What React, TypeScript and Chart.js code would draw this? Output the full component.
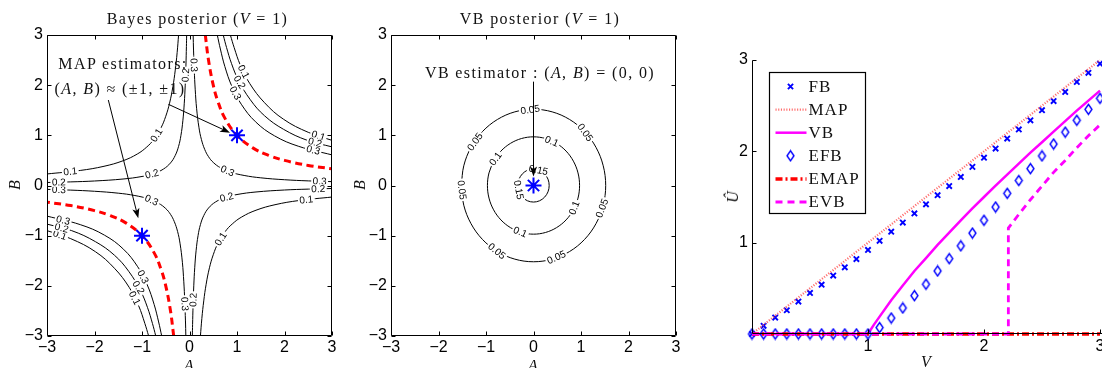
import { useEffect, useRef } from 'react';
import { Chart, registerables } from 'chart.js';

Chart.register(...registerables);

type Pt = [number, number];

const SANS = '"Liberation Sans", Arial, Helvetica, sans-serif';
const SERIF = '"Liberation Serif", "Times New Roman", serif';

// ================= Panel 1 : Bayes posterior (V = 1) =================
const squareTicks = [-3, -2, -1, 0, 1, 2, 3];

const bayesOuter01Q1: Pt[] = [[0.86, 3], [0.94, 2.75], [1.07, 2.4], [1.27, 2.03], [1.58, 1.65], [1.98, 1.32], [2.5, 1.06], [3.0, 0.9]];
const bayesOuter01Q3: Pt[] = [[-0.86, -3], [-0.94, -2.75], [-1.07, -2.4], [-1.27, -2.03], [-1.58, -1.65], [-1.98, -1.32], [-2.5, -1.06], [-3.0, -0.9]];
const bayesOuter02Q1: Pt[] = [[0.71, 3], [0.78, 2.75], [0.885, 2.43], [1.03, 2.1], [1.28, 1.71], [1.58, 1.39], [1.98, 1.12], [2.48, 0.9], [3.0, 0.77]];
const bayesOuter02Q3: Pt[] = [[-0.71, -3], [-0.78, -2.75], [-0.885, -2.43], [-1.03, -2.1], [-1.28, -1.71], [-1.58, -1.39], [-1.98, -1.12], [-2.48, -0.9], [-3.0, -0.77]];
const bayesOuter03Q1: Pt[] = [[0.585, 3], [0.65, 2.72], [0.745, 2.37], [0.89, 1.98], [1.09, 1.62], [1.39, 1.27], [1.79, 0.99], [2.3, 0.78], [3.0, 0.61]];
const bayesOuter03Q3: Pt[] = [[-0.585, -3], [-0.65, -2.72], [-0.745, -2.37], [-0.89, -1.98], [-1.09, -1.62], [-1.39, -1.27], [-1.79, -0.99], [-2.3, -0.78], [-3.0, -0.61]];
const bayesInner03Q1: Pt[] = [[0.077, 3], [0.085, 2.7], [0.1, 2.3], [0.12, 1.92], [0.15, 1.53], [0.2, 1.15], [0.25, 0.92], [0.32, 0.72], [0.4, 0.575], [0.5, 0.46], [0.65, 0.354], [0.85, 0.27], [1.15, 0.2], [1.5, 0.153], [2, 0.115], [2.5, 0.092], [3, 0.077]];
const bayesInner03Q3: Pt[] = [[-0.077, -3], [-0.085, -2.7], [-0.1, -2.3], [-0.12, -1.92], [-0.15, -1.53], [-0.2, -1.15], [-0.25, -0.92], [-0.32, -0.72], [-0.4, -0.575], [-0.5, -0.46], [-0.65, -0.354], [-0.85, -0.27], [-1.15, -0.2], [-1.5, -0.153], [-2, -0.115], [-2.5, -0.092], [-3, -0.077]];
const bayesInner02Q2: Pt[] = [[-0.06, 3], [-0.065, 2.77], [-0.075, 2.4], [-0.09, 2], [-0.11, 1.64], [-0.14, 1.29], [-0.18, 1.0], [-0.23, 0.78], [-0.3, 0.6], [-0.4, 0.45], [-0.55, 0.327], [-0.75, 0.24], [-1.0, 0.18], [-1.4, 0.129], [-2, 0.09], [-2.5, 0.072], [-3, 0.06]];
const bayesInner02Q4: Pt[] = [[0.06, -3], [0.065, -2.77], [0.075, -2.4], [0.09, -2], [0.11, -1.64], [0.14, -1.29], [0.18, -1.0], [0.23, -0.78], [0.3, -0.6], [0.4, -0.45], [0.55, -0.327], [0.75, -0.24], [1.0, -0.18], [1.4, -0.129], [2, -0.09], [2.5, -0.072], [3, -0.06]];
const bayesInner01Q2: Pt[] = [[-0.23, 3], [-0.26, 2.65], [-0.3, 2.3], [-0.35, 1.97], [-0.42, 1.64], [-0.5, 1.38], [-0.6, 1.15], [-0.75, 0.92], [-0.9, 0.767], [-1.1, 0.627], [-1.4, 0.493], [-1.8, 0.383], [-2.3, 0.3], [-3, 0.23]];
const bayesInner01Q4: Pt[] = [[0.23, -3], [0.26, -2.65], [0.3, -2.3], [0.35, -1.97], [0.42, -1.64], [0.5, -1.38], [0.6, -1.15], [0.75, -0.92], [0.9, -0.767], [1.1, -0.627], [1.4, -0.493], [1.8, -0.383], [2.3, -0.3], [3, -0.23]];

const mapRidgeQ1: Pt[] = [[0.333, 3], [0.4, 2.5], [0.5, 2], [0.6, 1.667], [0.75, 1.333], [1, 1], [1.333, 0.75], [1.667, 0.6], [2, 0.5], [2.5, 0.4], [3, 0.333]];
const mapRidgeQ3: Pt[] = [[-0.333, -3], [-0.4, -2.5], [-0.5, -2], [-0.6, -1.667], [-0.75, -1.333], [-1, -1], [-1.333, -0.75], [-1.667, -0.6], [-2, -0.5], [-2.5, -0.4], [-3, -0.333]];

const mapEstimatorA = [1, -1];
const mapEstimatorB = [1, -1];

// label anchor positions along each contour
const outer01Q1Labels: Pt[] = [[1.14, 2.27], [2.71, 0.98]];
const outer02Q1Labels: Pt[] = [[1.04, 2.05], [2.64, 0.85]];
const outer03Q1Labels: Pt[] = [[0.96, 1.84], [2.6, 0.69]];
const outer01Q3Labels: Pt[] = [[-1.17, -2.25], [-2.73, -0.99]];
const outer02Q3Labels: Pt[] = [[-1.09, -2.04], [-2.69, -0.84]];
const outer03Q3Labels: Pt[] = [[-0.98, -1.82], [-2.657, -0.68]];
const inner03Q1Labels: Pt[] = [[0.09, 2.4], [0.8, 0.29], [2.74, 0.084]];
const inner03Q3Labels: Pt[] = [[-0.097, -2.36], [-0.8, -0.3], [-2.75, -0.084]];
const inner02Q2Labels: Pt[] = [[-0.082, 2.2], [-0.79, 0.228], [-2.75, 0.065]];
const inner02Q4Labels: Pt[] = [[0.079, -2.28], [0.78, -0.23], [2.71, -0.066]];
const inner01Q2Labels: Pt[] = [[-0.69, 1.0], [-2.51, 0.275]];
const inner01Q4Labels: Pt[] = [[0.65, -1.06], [2.46, -0.28]];

const bayesArrowFromA = [-0.446, -1.709];
const bayesArrowFromB = [1.619, 1.704];
const bayesArrowToA = [0.853, -1.078];
const bayesArrowToB = [1.053, -0.654];

// ================= Panel 2 : VB posterior (V = 1) =================
const vbCircle005: Pt[] = [[-1.52, 0], [-1.468, -0.393], [-1.316, -0.76], [-1.075, -1.075], [-0.76, -1.316], [-0.393, -1.468], [0, -1.52], [0.393, -1.468], [0.76, -1.316], [1.075, -1.075], [1.316, -0.76], [1.468, -0.393], [1.52, 0], [1.468, 0.393], [1.316, 0.76], [1.075, 1.075], [0.76, 1.316], [0.393, 1.468], [0, 1.52], [-0.393, 1.468], [-0.76, 1.316], [-1.075, 1.075], [-1.316, 0.76], [-1.468, 0.393], [-1.52, 0]];
const vbCircle01: Pt[] = [[-0.84, 0.485], [-0.937, 0.251], [-0.97, 0], [-0.937, -0.251], [-0.84, -0.485], [-0.686, -0.686], [-0.485, -0.84], [-0.251, -0.937], [0, -0.97], [0.251, -0.937], [0.485, -0.84], [0.686, -0.686], [0.84, -0.485], [0.937, -0.251], [0.97, 0], [0.937, 0.251], [0.84, 0.485], [0.686, 0.686], [0.485, 0.84], [0.251, 0.937], [0, 0.97], [-0.251, 0.937], [-0.485, 0.84], [-0.686, 0.686], [-0.84, 0.485]];
const vbCircle015: Pt[] = [[-0.33, 0], [-0.305, -0.126], [-0.233, -0.233], [-0.126, -0.305], [0, -0.33], [0.126, -0.305], [0.233, -0.233], [0.305, -0.126], [0.33, 0], [0.305, 0.126], [0.233, 0.233], [0.126, 0.305], [0, 0.33], [-0.126, 0.305], [-0.233, 0.233], [-0.305, 0.126], [-0.33, 0]];

const circle005Labels: Pt[] = [[-0.07, 1.5], [1.08, 1.05], [-1.23, 0.87], [-1.53, -0.09], [1.46, -0.46], [-0.79, -1.33], [0.49, -1.45]];
const circle01Labels: Pt[] = [[0.37, 0.85], [-0.85, 0.57], [0.87, -0.45], [-0.28, -0.93]];
const circle015Labels: Pt[] = [[0.1, 0.29], [-0.33, -0.09]];

const vbEstimatorA = [0];
const vbEstimatorB = [0];
const vbArrowFromA = [0];
const vbArrowFromB = [2.07];
const vbArrowToA = [0];
const vbArrowToB = [0.18];

// ================= Panel 3 : estimators vs V =================
const rightTicks = [1, 2, 3];
const vGrid = [0, 0.1, 0.2, 0.3, 0.4, 0.5, 0.6, 0.7, 0.8, 0.9, 1.0, 1.1, 1.2, 1.3, 1.4, 1.5, 1.6, 1.7, 1.8, 1.9, 2.0, 2.1, 2.2, 2.3, 2.4, 2.5, 2.6, 2.7, 2.8, 2.9, 3.0];
const fbU = [0, 0.09, 0.18, 0.26, 0.355, 0.45, 0.54, 0.64, 0.73, 0.82, 0.92, 1.02, 1.12, 1.22, 1.32, 1.42, 1.52, 1.62, 1.72, 1.83, 1.93, 2.03, 2.14, 2.24, 2.34, 2.45, 2.55, 2.65, 2.76, 2.86, 2.96];
const efbU = [0, 0, 0, 0, 0, 0, 0, 0, 0, 0, 0, 0.07, 0.175, 0.285, 0.42, 0.545, 0.69, 0.825, 0.965, 1.105, 1.245, 1.39, 1.54, 1.68, 1.81, 1.95, 2.08, 2.21, 2.34, 2.46, 2.58];
const mapV = [0, 3];
const mapU = [0, 3];
const vbV = [0, 1, 1.05, 1.1, 1.2, 1.3, 1.4, 1.5, 1.6, 1.7, 1.8, 1.9, 2.0, 2.1, 2.2, 2.3, 2.4, 2.5, 2.6, 2.7, 2.8, 2.9, 3.0];
const vbU = [0, 0, 0.1, 0.19, 0.37, 0.53, 0.69, 0.83, 0.975, 1.11, 1.245, 1.375, 1.5, 1.625, 1.745, 1.865, 1.985, 2.1, 2.215, 2.33, 2.445, 2.555, 2.665];
const emapV = [0, 3];
const emapU = [0, 0];
const evbV = [0, 2.21, 2.21, 2.3, 2.4, 2.5, 2.6, 2.7, 2.8, 2.9, 3];
const evbU = [0, 0, 1.16, 1.31, 1.47, 1.62, 1.77, 1.9, 2.04, 2.17, 2.29];
const legendLabels = ['FB', 'MAP', 'VB', 'EFB', 'EMAP', 'EVB'];

// ---------------------------------------------------------------------
const toXY = (pts: Pt[]) => pts.map(([a, b]) => ({ x: a, y: b }));
const zipXY = (xs: number[], ys: number[]) => xs.map((x, i) => ({ x, y: ys[i] }));
const fmtMinus = (v: any) => (Number(v) < 0 ? `\u2212${-Number(v)}` : `${v}`);
const fmtNoZero = (v: any) => (Number(v) === 0 ? '' : `${v}`);

function scalesFor(xMin: number, xMax: number, yMin: number, yMax: number, yWidth: number, xHeight: number, xPad: number, fmt: (v: any) => string) {
  const font = { family: SANS, size: 16 };
  return {
    x: {
      type: 'linear', min: xMin, max: xMax,
      grid: { display: false, drawTicks: false }, border: { display: false },
      ticks: { stepSize: 1, font, color: '#000', padding: xPad, maxRotation: 0, minRotation: 0, autoSkip: false, callback: fmt },
      afterFit: (s: any) => { s.height = xHeight; s.paddingLeft = 0; s.paddingRight = 0; },
    },
    y: {
      type: 'linear', min: yMin, max: yMax,
      grid: { display: false, drawTicks: false }, border: { display: false },
      ticks: { stepSize: 1, font, color: '#000', padding: 4, autoSkip: false, callback: fmt },
      afterFit: (s: any) => { s.width = yWidth; s.paddingTop = 0; s.paddingBottom = 0; },
    },
  };
}

function framePlugin(xt: number[], yt: number[], box: boolean) {
  return {
    id: 'frameTicks',
    afterDatasetsDraw(chart: any) {
      const { ctx, chartArea: ca, scales } = chart;
      const L = Math.round(ca.left) + 0.5, R = Math.round(ca.right) - 0.5;
      const T = Math.round(ca.top) + 0.5, B = Math.round(ca.bottom) - 0.5;
      const len = 4;
      ctx.save();
      ctx.strokeStyle = '#000';
      ctx.lineWidth = 1;
      ctx.setLineDash([]);
      ctx.beginPath();
      if (box) {
        ctx.rect(L, T, R - L, B - T);
      } else {
        ctx.moveTo(L, T); ctx.lineTo(L, B); ctx.lineTo(R + 40, B);
      }
      for (const v of xt) {
        const px = Math.round(scales.x.getPixelForValue(v)) + 0.5;
        ctx.moveTo(px, B); ctx.lineTo(px, B - len);
        if (box) { ctx.moveTo(px, T); ctx.lineTo(px, T + len); }
      }
      for (const v of yt) {
        const py = Math.round(scales.y.getPixelForValue(v)) + 0.5;
        ctx.moveTo(L, py); ctx.lineTo(L + len, py);
        if (box) { ctx.moveTo(R, py); ctx.lineTo(R - len, py); }
      }
      ctx.stroke();
      ctx.restore();
    },
  };
}

type Curve = { pts: Pt[]; level: string; labels: Pt[] };

function contourLabelPlugin(curves: Curve[]) {
  return {
    id: 'contourLabels',
    afterDatasetsDraw(chart: any) {
      const { ctx, scales: { x, y } } = chart;
      ctx.save();
      ctx.font = `10px ${SANS}`;
      ctx.textAlign = 'center';
      ctx.textBaseline = 'middle';
      for (const c of curves) {
        const px = c.pts.map((p) => [x.getPixelForValue(p[0]), y.getPixelForValue(p[1])]);
        for (const l of c.labels) {
          const lx = x.getPixelForValue(l[0]);
          const ly = y.getPixelForValue(l[1]);
          let best = Infinity, bx = lx, by = ly, ang = 0;
          for (let i = 0; i < px.length - 1; i++) {
            const [x0, y0] = px[i];
            const [x1, y1] = px[i + 1];
            const dx = x1 - x0, dy = y1 - y0;
            const L2 = dx * dx + dy * dy || 1;
            let t = ((lx - x0) * dx + (ly - y0) * dy) / L2;
            t = Math.max(0, Math.min(1, t));
            const qx = x0 + t * dx, qy = y0 + t * dy;
            const d = (qx - lx) ** 2 + (qy - ly) ** 2;
            if (d < best) { best = d; bx = qx; by = qy; ang = Math.atan2(dy, dx); }
          }
          if (ang > Math.PI / 2) ang -= Math.PI;
          if (ang <= -Math.PI / 2) ang += Math.PI;
          const w = ctx.measureText(c.level).width;
          ctx.save();
          ctx.translate(bx, by);
          ctx.rotate(ang);
          ctx.fillStyle = '#fff';
          ctx.fillRect(-w / 2 - 1.5, -4.5, w + 3, 9);
          ctx.fillStyle = '#000';
          ctx.fillText(c.level, 0, 0.5);
          ctx.restore();
        }
      }
      ctx.restore();
    },
  };
}

function arrowPlugin(fa: number[], fb: number[], ta: number[], tb: number[]) {
  return {
    id: 'arrows',
    afterDatasetsDraw(chart: any) {
      const { ctx, scales: { x, y } } = chart;
      ctx.save();
      ctx.strokeStyle = '#000';
      ctx.fillStyle = '#000';
      ctx.lineWidth = 1;
      ctx.setLineDash([]);
      for (let i = 0; i < fa.length; i++) {
        const x0 = x.getPixelForValue(fa[i]), y0 = y.getPixelForValue(fb[i]);
        const x1 = x.getPixelForValue(ta[i]), y1 = y.getPixelForValue(tb[i]);
        const a = Math.atan2(y1 - y0, x1 - x0);
        const hl = 10, hw = 3.6;
        ctx.beginPath();
        ctx.moveTo(x0, y0);
        ctx.lineTo(x1 - Math.cos(a) * 4, y1 - Math.sin(a) * 4);
        ctx.stroke();
        ctx.beginPath();
        ctx.moveTo(x1, y1);
        ctx.lineTo(x1 - Math.cos(a) * hl - Math.sin(a) * hw, y1 - Math.sin(a) * hl + Math.cos(a) * hw);
        ctx.lineTo(x1 - Math.cos(a) * hl * 0.75, y1 - Math.sin(a) * hl * 0.75);
        ctx.lineTo(x1 - Math.cos(a) * hl + Math.sin(a) * hw, y1 - Math.sin(a) * hl - Math.cos(a) * hw);
        ctx.closePath();
        ctx.fill();
      }
      ctx.restore();
    },
  };
}

function makeDiamond(): HTMLCanvasElement {
  const c = document.createElement('canvas');
  c.width = 11;
  c.height = 13;
  const g = c.getContext('2d')!;
  g.strokeStyle = '#0000ff';
  g.lineWidth = 1.4;
  g.beginPath();
  g.moveTo(5.5, 1.5);
  g.lineTo(9, 6.5);
  g.lineTo(5.5, 11.5);
  g.lineTo(2, 6.5);
  g.closePath();
  g.stroke();
  return c;
}

const legendPlugin = {
  id: 'matlabLegend',
  afterDatasetsDraw(chart: any) {
    const { ctx, chartArea: ca } = chart;
    const bx = Math.round(ca.left + 17) + 0.5, by = Math.round(ca.top + 12) + 0.5, bw = 96, bh = 141;
    ctx.save();
    ctx.fillStyle = '#fff';
    ctx.fillRect(bx, by, bw, bh);
    ctx.strokeStyle = '#000';
    ctx.lineWidth = 1.2;
    ctx.setLineDash([]);
    ctx.strokeRect(bx, by, bw, bh);
    chart.data.datasets.forEach((ds: any, i: number) => {
      const cy = by + 14 + i * 23.1;
      const x0 = bx + 6, x1 = bx + 37, cx = bx + 21;
      if (ds.showLine) {
        ctx.save();
        ctx.strokeStyle = ds.borderColor;
        ctx.lineWidth = ds.borderWidth;
        ctx.setLineDash(ds.borderDash || []);
        ctx.beginPath();
        ctx.moveTo(x0, cy);
        ctx.lineTo(x1, cy);
        ctx.stroke();
        ctx.restore();
      } else if (ds.pointStyle instanceof HTMLCanvasElement) {
        const im = ds.pointStyle as HTMLCanvasElement;
        ctx.drawImage(im, cx - im.width / 2, cy - im.height / 2);
      } else {
        const r = 2.6;
        ctx.save();
        ctx.strokeStyle = ds.borderColor;
        ctx.lineWidth = 1.9;
        ctx.beginPath();
        ctx.moveTo(cx - r, cy - r); ctx.lineTo(cx + r, cy + r);
        ctx.moveTo(cx + r, cy - r); ctx.lineTo(cx - r, cy + r);
        ctx.stroke();
        ctx.restore();
      }
      ctx.fillStyle = '#111';
      ctx.font = `17px ${SERIF}`;
      (ctx as any).letterSpacing = '1px';
      ctx.textAlign = 'left';
      ctx.textBaseline = 'middle';
      ctx.fillText(ds.label, bx + 39, cy + 1);
    });
    ctx.restore();
  },
};

// ---------------------------------------------------------------------
function bayesConfig() {
  const blackCurves: Curve[] = [
    { pts: bayesOuter01Q1, level: '0.1', labels: outer01Q1Labels },
    { pts: bayesOuter02Q1, level: '0.2', labels: outer02Q1Labels },
    { pts: bayesOuter03Q1, level: '0.3', labels: outer03Q1Labels },
    { pts: bayesOuter01Q3, level: '0.1', labels: outer01Q3Labels },
    { pts: bayesOuter02Q3, level: '0.2', labels: outer02Q3Labels },
    { pts: bayesOuter03Q3, level: '0.3', labels: outer03Q3Labels },
    { pts: bayesInner03Q1, level: '0.3', labels: inner03Q1Labels },
    { pts: bayesInner03Q3, level: '0.3', labels: inner03Q3Labels },
    { pts: bayesInner02Q2, level: '0.2', labels: inner02Q2Labels },
    { pts: bayesInner02Q4, level: '0.2', labels: inner02Q4Labels },
    { pts: bayesInner01Q2, level: '0.1', labels: inner01Q2Labels },
    { pts: bayesInner01Q4, level: '0.1', labels: inner01Q4Labels },
  ];
  const datasets: any[] = blackCurves.map((c) => ({
    data: toXY(c.pts), showLine: true, borderColor: '#000', borderWidth: 1, pointRadius: 0, tension: 0.4, order: 3,
  }));
  for (const r of [mapRidgeQ1, mapRidgeQ3]) {
    datasets.push({ data: toXY(r), showLine: true, borderColor: '#ff0000', borderWidth: 3, borderDash: [7, 4.5], pointRadius: 0, tension: 0.4, order: 2 });
  }
  datasets.push({
    data: zipXY(mapEstimatorA, mapEstimatorB), showLine: false, pointStyle: 'star', pointRadius: 8,
    borderColor: '#0000ff', pointBorderColor: '#0000ff', pointBorderWidth: 2, order: 1,
  });
  return {
    type: 'scatter',
    data: { datasets },
    options: {
      responsive: false, animation: false, events: [],
      layout: { padding: { left: 0, top: 35, right: 13, bottom: 0 } },
      plugins: { legend: { display: false }, tooltip: { enabled: false } },
      scales: scalesFor(-3, 3, -3, 3, 47, 32, 2, fmtMinus),
    },
    plugins: [contourLabelPlugin(blackCurves), framePlugin(squareTicks, squareTicks, true), arrowPlugin(bayesArrowFromA, bayesArrowFromB, bayesArrowToA, bayesArrowToB)],
  };
}

function vbConfig() {
  const curves: Curve[] = [
    { pts: vbCircle005, level: '0.05', labels: circle005Labels },
    { pts: vbCircle01, level: '0.1', labels: circle01Labels },
    { pts: vbCircle015, level: '0.15', labels: circle015Labels },
  ];
  const datasets: any[] = curves.map((c) => ({
    data: toXY(c.pts), showLine: true, borderColor: '#000', borderWidth: 1, pointRadius: 0, tension: 0.35, order: 3,
  }));
  datasets.push({
    data: zipXY(vbEstimatorA, vbEstimatorB), showLine: false, pointStyle: 'star', pointRadius: 8,
    borderColor: '#0000ff', pointBorderColor: '#0000ff', pointBorderWidth: 2, order: 1,
  });
  return {
    type: 'scatter',
    data: { datasets },
    options: {
      responsive: false, animation: false, events: [],
      layout: { padding: { left: 0, top: 35, right: 14, bottom: 0 } },
      plugins: { legend: { display: false }, tooltip: { enabled: false } },
      scales: scalesFor(-3, 3, -3, 3, 46, 32, 2, fmtMinus),
    },
    plugins: [contourLabelPlugin(curves), framePlugin(squareTicks, squareTicks, true), arrowPlugin(vbArrowFromA, vbArrowFromB, vbArrowToA, vbArrowToB)],
  };
}

function estimatorConfig() {
  const diamond = makeDiamond();
  const n = legendLabels.length;
  const datasets: any[] = [
    { label: legendLabels[0], data: zipXY(vGrid, fbU), showLine: false, pointStyle: 'crossRot', pointRadius: 3.8, borderColor: '#0000ff', pointBorderColor: '#0000ff', pointBorderWidth: 1.9 },
    { label: legendLabels[1], data: zipXY(mapV, mapU), showLine: true, pointRadius: 0, borderColor: 'rgba(255,70,70,0.8)', borderWidth: 2.2, borderDash: [1.1, 1.6] },
    { label: legendLabels[2], data: zipXY(vbV, vbU), showLine: true, pointRadius: 0, borderColor: '#ff00ff', borderWidth: 2.5, tension: 0 },
    { label: legendLabels[3], data: zipXY(vGrid, efbU), showLine: false, pointStyle: diamond, pointRadius: 5, borderColor: '#0000ff' },
    { label: legendLabels[4], data: zipXY(emapV, emapU), showLine: true, pointRadius: 0, borderColor: '#ff0000', borderWidth: 3.5, borderDash: [7, 3, 2, 3] },
    { label: legendLabels[5], data: zipXY(evbV, evbU), showLine: true, pointRadius: 0, borderColor: '#ff00ff', borderWidth: 2.8, borderDash: [7, 5] },
  ];
  datasets.forEach((d, i) => { d.order = n - i; d.clip = false; });
  return {
    type: 'scatter',
    data: { datasets },
    options: {
      responsive: false, animation: false, events: [],
      layout: { padding: { left: 0, top: 60, right: 40, bottom: 0 } },
      plugins: { legend: { display: false }, tooltip: { enabled: false } },
      scales: scalesFor(0, 3, 0, 3, 52, 34, 3, fmtNoZero),
    },
    plugins: [framePlugin(rightTicks, rightTicks, false), legendPlugin],
  };
}

function ChartBox(props: { left: number; top: number; width: number; height: number; make: () => any }) {
  const ref = useRef<HTMLCanvasElement>(null);
  useEffect(() => {
    const chart = new Chart(ref.current as HTMLCanvasElement, props.make());
    return () => chart.destroy();
  }, []);
  return (
    <canvas
      ref={ref}
      width={props.width}
      height={props.height}
      style={{ position: 'absolute', left: props.left, top: props.top, width: props.width, height: props.height }}
    />
  );
}

function Label(props: { x: number; y: number; size?: number; rotate?: number; spacing?: number; italic?: boolean; children: any }) {
  return (
    <div
      style={{
        position: 'absolute', left: props.x, top: props.y,
        transform: `translate(-50%, -50%) rotate(${props.rotate || 0}deg)`,
        fontFamily: SERIF, fontSize: props.size || 16, fontStyle: props.italic ? 'italic' : 'normal',
        letterSpacing: props.spacing ?? 1.4, whiteSpace: 'nowrap', color: '#111', lineHeight: 1,
      }}
    >
      {props.children}
    </div>
  );
}

export default function App() {
  return (
    <div style={{ position: 'absolute', left: 0, top: 0, width: 1102, height: 368, overflow: 'hidden', background: '#fff' }}>
      <ChartBox left={0} top={0} width={345} height={368} make={bayesConfig} />
      <ChartBox left={345} top={0} width={345} height={368} make={vbConfig} />
      <ChartBox left={700} top={0} width={440} height={368} make={estimatorConfig} />

      <Label x={197.5} y={18.5}>Bayes posterior (<i>V</i> = 1)</Label>
      <Label x={540} y={18.5}>VB posterior (<i>V</i> = 1)</Label>

      <Label x={123} y={63.5}>MAP estimators:</Label>
      <Label x={120} y={88.5}>(<i>A</i>, <i>B</i>) ≈ (±1, ±1)</Label>
      <Label x={540} y={73}>VB estimator : (<i>A</i>, <i>B</i>) = (0, 0)</Label>

      <Label x={15} y={185} rotate={-90} italic spacing={0}>B</Label>
      <Label x={189} y={366} italic spacing={0}>A</Label>
      <Label x={360} y={185} rotate={-90} italic spacing={0}>B</Label>
      <Label x={533} y={366} italic spacing={0}>A</Label>

      <Label x={733} y={197} rotate={-90} italic spacing={0}>Û</Label>
      <Label x={926} y={362} italic spacing={0}>V</Label>
    </div>
  );
}
